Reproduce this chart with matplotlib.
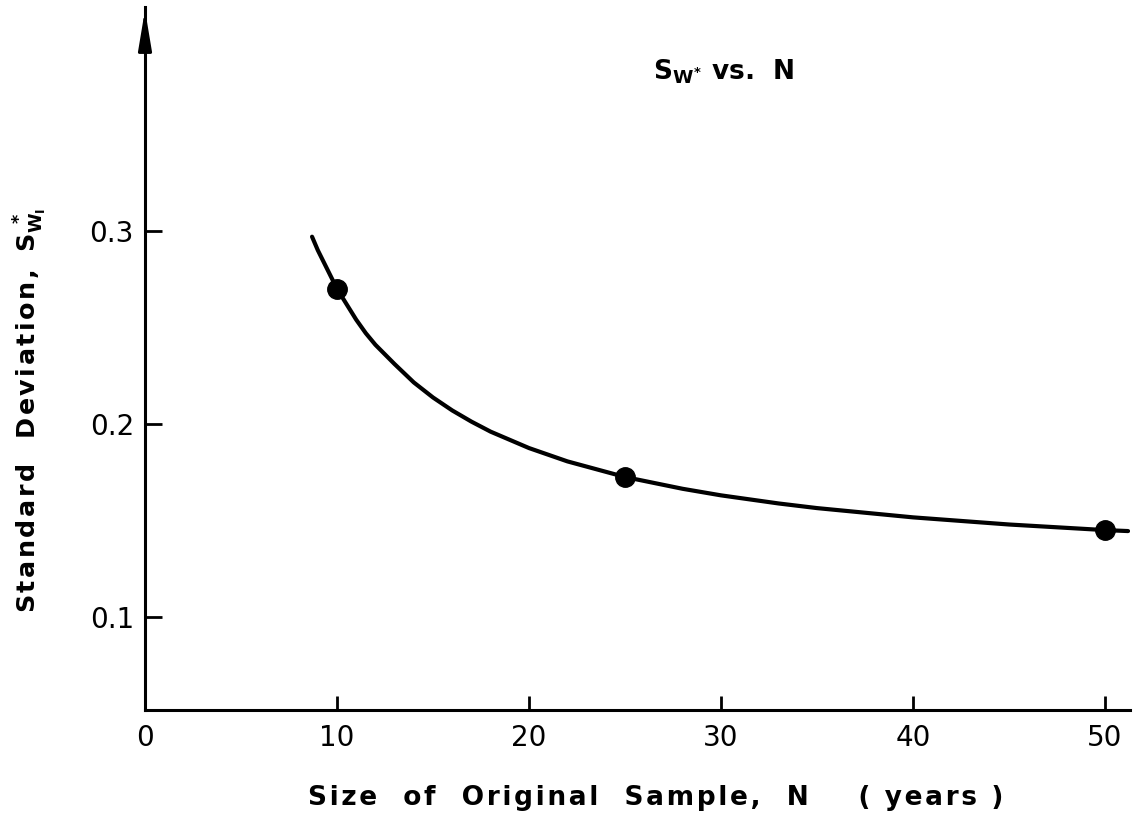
import matplotlib
matplotlib.use("Agg")
import matplotlib.pyplot as plt

# Sample size N (years) and standard deviation S_w1* at the plotted points
sample_sizes = [10, 25, 50]
std_devs = [0.270, 0.1725, 0.145]

# Smooth fitted curve, read along its length
curve_n = [8.7, 9.0, 9.5, 10, 10.5, 11, 11.5, 12, 13, 14, 15, 16, 17, 18, 20, 22, 25,
           28, 30, 33, 35, 40, 45, 50, 51.2]
curve_s = [0.297, 0.290, 0.280, 0.270, 0.262, 0.254, 0.247, 0.241, 0.231, 0.2215,
           0.2137, 0.2070, 0.2012, 0.1960, 0.1875, 0.1806, 0.1725, 0.1664, 0.1630,
           0.1588, 0.1564, 0.1516, 0.1479, 0.145, 0.1445]

x_ticks = [0, 10, 20, 30, 40, 50]
y_ticks = [0.1, 0.2, 0.3]
y_tick_labels = ["0.1", "0.2", "0.3"]

plt.rcParams["font.family"] = ["DejaVu Sans"]
plt.rcParams["font.weight"] = "bold"
plt.rcParams["mathtext.fontset"] = "custom"
plt.rcParams["mathtext.rm"] = "DejaVu Sans:bold"
plt.rcParams["mathtext.it"] = "DejaVu Sans:bold"
plt.rcParams["mathtext.bf"] = "DejaVu Sans:bold"


def spaced(text, gap="\u200a"):
    """Open up the letter spacing of a label."""
    return gap.join(text)


W, H = 1145, 817
fig = plt.figure(figsize=(W / 100, H / 100), dpi=100)
ax = fig.add_axes([145 / W, 1 - 710 / H, 985 / W, 703 / H])

ax.plot(curve_n, curve_s, color="black", lw=3.0, solid_capstyle="round",
        solid_joinstyle="round", zorder=2)
ax.plot(sample_sizes, std_devs, "o", color="black", ms=14, zorder=3)

ax.set_xlim(0, 51.3)
ax.set_ylim(0.0518, 0.416)

for side in ("top", "right"):
    ax.spines[side].set_visible(False)
for side in ("left", "bottom"):
    ax.spines[side].set_linewidth(2.2)

ax.set_xticks(x_ticks)
ax.set_xticklabels([str(t) for t in x_ticks], fontweight="normal")
ax.set_yticks(y_ticks)
ax.set_yticklabels(y_tick_labels, fontweight="normal")
ax.tick_params(axis="x", direction="in", length=10, width=2, labelsize=20, pad=10)
ax.tick_params(axis="y", direction="in", length=12, width=2, labelsize=20, pad=8)

# Arrowhead on the vertical axis
ax.annotate("", xy=(0, 1.0), xytext=(0, 0.96), xycoords="axes fraction",
            arrowprops=dict(arrowstyle="-|>,head_length=1.2,head_width=0.2",
                            mutation_scale=20, color="black", lw=2.2),
            annotation_clip=False)

fig.text(653 / W, 1 - 80 / H, r"S$_{W^{*}}$ vs.  N",
         fontsize=19, ha="left", va="baseline")
fig.text(30 / W, 1 - 410 / H,
         spaced("Standard  Deviation,") + r"  S$_{W_{I}}^{\ *}$",
         fontsize=18.3, rotation=90, ha="center", va="center")
fig.text(656 / W, 1 - 805 / H,
         spaced("Size  of  Original  Sample,  N    ( years )"),
         fontsize=19, ha="center", va="baseline")

fig.savefig("out.png", dpi=100)
